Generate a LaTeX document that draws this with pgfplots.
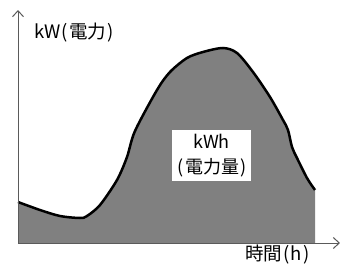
\documentclass[border=0pt]{standalone}
\usepackage{fontspec}
\setmainfont{Noto Sans CJK JP}
\usepackage{pgfplots}
\pgfplotsset{compat=1.18}
\usetikzlibrary{arrows.meta}
\definecolor{areagray}{RGB}{128,128,128}
\definecolor{axgray}{RGB}{90,90,90}
\newcommand{\lp}{\kern1.2pt(\kern1.2pt}
\newcommand{\rp}{\kern1.2pt)}
\begin{document}
\begin{tikzpicture}
\begin{axis}[
  scale only axis, width=340pt, height=263pt,
  xmin=-18, xmax=322, ymin=-20, ymax=243,
  hide axis, clip=false,
]
\addplot[draw=none, fill=areagray, smooth, tension=0.5] coordinates {
(0,41) (22,33) (42,27) (62,25) (69,27) (82,38) (99,63) (109,86) (117,112)
(139,153) (152,171) (169,185) (185,191) (205,195) (219,190) (235,171)
(252,146) (265,123) (270,113) (274,96) (279,85) (289,65) (297,53)
} \closedcycle;
\addplot[black, line width=2.5pt, smooth, tension=0.5] coordinates {
(0,41) (22,33) (42,27) (62,25) (69,27) (82,38) (99,63) (109,86) (117,112)
(139,153) (152,171) (169,185) (185,191) (205,195) (219,190) (235,171)
(252,146) (265,123) (270,113) (274,96) (279,85) (289,65) (297,53)
};
\draw[axgray, line width=1pt, -{Straight Barb[length=6pt,width=11pt]}] (axis cs:0,0) -- (axis cs:322,0);
\draw[axgray, line width=1pt, -{Straight Barb[length=6pt,width=11pt]}] (axis cs:0,0) -- (axis cs:0,233);
\node[fill=white, minimum width=79pt, minimum height=51pt, align=center, inner sep=0pt,
  font=\fontsize{18}{25}\selectfont] at (axis cs:193.5,87.5) {kWh\\\lp 電力量\rp};
\node[anchor=base west, inner sep=0pt, font=\fontsize{18.5}{20}\selectfont] at (axis cs:16,204.5) {kW\lp 電力\rp};
\node[anchor=base west, inner sep=0pt, font=\fontsize{18.5}{20}\selectfont] at (axis cs:227,-17) {時間\lp h\rp};
\coordinate (bl) at (axis cs:-18,-20);
\coordinate (tr) at (axis cs:322,243);
\end{axis}
\pgfresetboundingbox
\path[use as bounding box] (bl) rectangle (tr);
\end{tikzpicture}
\end{document}
